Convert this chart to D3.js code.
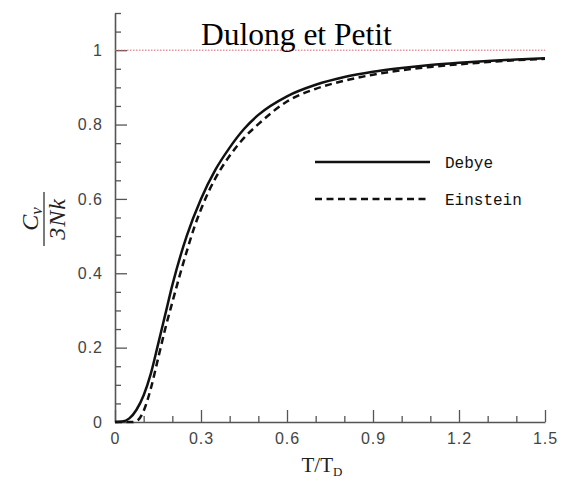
<!DOCTYPE html>
<html>
<head>
<meta charset="utf-8">
<script src="https://cdn.jsdelivr.net/npm/d3@7"></script>
<style>
  body { margin: 0; background: white; }
</style>
</head>
<body>
<div id="chart"></div>
<script>
// values (T/TD on x, Cv/3Nk on y)
const debyeT = [0, 0.025, 0.05, 0.075, 0.1, 0.125, 0.15, 0.175, 0.2, 0.25, 0.3, 0.35, 0.4, 0.45, 0.5, 0.6, 0.7, 0.8, 0.9, 1.0, 1.1, 1.2, 1.3, 1.4, 1.5];
const debyeC = [0, 0.0012, 0.0097, 0.033, 0.072, 0.13, 0.208, 0.288, 0.368, 0.50, 0.60, 0.678, 0.738, 0.788, 0.826, 0.876, 0.907, 0.928, 0.942, 0.952, 0.96, 0.966, 0.971, 0.975, 0.978];

const einsteinT = [0, 0.06, 0.08, 0.1, 0.125, 0.15, 0.175, 0.2, 0.225, 0.25, 0.275, 0.3, 0.325, 0.35, 0.4, 0.45, 0.5, 0.6, 0.7, 0.8, 0.9, 1.0, 1.1, 1.2, 1.3, 1.4, 1.5];
const einsteinC = [0, 0, 0.005, 0.03, 0.09, 0.17, 0.25, 0.322, 0.392, 0.458, 0.52, 0.572, 0.617, 0.655, 0.716, 0.764, 0.801, 0.862, 0.896, 0.918, 0.934, 0.946, 0.955, 0.962, 0.968, 0.973, 0.977];

const xMajor = [0, 0.3, 0.6, 0.9, 1.2, 1.5];
const xMinor = [0.1, 0.2, 0.4, 0.5, 0.7, 0.8, 1.0, 1.1, 1.3, 1.4];
const yMajor = [0, 0.2, 0.4, 0.6, 0.8, 1];
const yMinor = [0.05, 0.1, 0.15, 0.25, 0.3, 0.35, 0.45, 0.5, 0.55, 0.65, 0.7, 0.75, 0.85, 0.9, 0.95, 1.05, 1.1];

const legendNames = ["Debye", "Einstein"];
const limitValue = 1;
const limitLabel = "Dulong et Petit";

document.addEventListener("DOMContentLoaded", () => {

    let width = 572, height = 479;

    let svg = d3.select("#chart")
                .append("svg")
                .attr("width", width)
                .attr("height", height)
                .style("font-family", "'Liberation Sans', Arial, sans-serif");

    let x = d3.scaleLinear().domain([0, 1.5]).range([115, 545]);
    let y = d3.scaleLinear().domain([0, 1.1]).range([422, 13]);

    //START axes
    let axisColor = "#555";

    // minor ticks first, no labels
    svg.append("g")
        .attr("transform", `translate(0, ${y(0)})`)
        .call(d3.axisBottom(x).tickValues(xMinor).tickSizeInner(-6).tickSizeOuter(0).tickFormat(""))
        .call(g => g.select(".domain").remove());
    svg.append("g")
        .attr("transform", `translate(${x(0)}, 0)`)
        .call(d3.axisLeft(y).tickValues(yMinor).tickSizeInner(-6).tickSizeOuter(0).tickFormat(""))
        .call(g => g.select(".domain").remove());

    svg.append("g")
        .attr("transform", `translate(0, ${y(0)})`)
        .call(d3.axisBottom(x).tickValues(xMajor).tickSizeInner(-12).tickSizeOuter(0)
              .tickPadding(11).tickFormat(d => d3.format("~g")(d)));

    svg.append("g")
        .attr("transform", `translate(${x(0)}, 0)`)
        .call(d3.axisLeft(y).tickValues(yMajor).tickSizeInner(-12).tickSizeOuter(0)
              .tickPadding(12).tickFormat(d => d3.format("~g")(d)));

    svg.selectAll(".tick line").attr("stroke", axisColor).attr("stroke-width", 1.3);
    svg.selectAll(".domain").attr("stroke", axisColor).attr("stroke-width", 1.6);
    svg.selectAll(".tick text")
        .attr("fill", "#444")
        .style("font-size", "16px")
        .style("letter-spacing", "1px");
    //END axes

    //START Dulong et Petit line
    svg.append("line")
        .attr("x1", x(0)).attr("x2", x(1.5))
        .attr("y1", y(limitValue)).attr("y2", y(limitValue))
        .attr("stroke", "#e0606e")
        .attr("stroke-width", 1)
        .attr("stroke-dasharray", "1.5,1.5");

    svg.append("text")
        .attr("x", 201).attr("y", 45)
        .style("font-family", "'Liberation Serif', 'Times New Roman', serif")
        .style("font-size", "31.5px")
        .attr("fill", "black")
        .text(limitLabel);
    //END Dulong et Petit line

    //START curves
    let line = d3.line()
        .x(d => x(d[0]))
        .y(d => y(d[1]))
        .curve(d3.curveMonotoneX);

    let debye = debyeT.map((t, i) => [t, debyeC[i]]);
    let einstein = einsteinT.map((t, i) => [t, einsteinC[i]]);

    svg.append("path")
        .datum(einstein)
        .attr("d", line)
        .attr("fill", "none")
        .attr("stroke", "#111")
        .attr("stroke-width", 2.5)
        .attr("stroke-dasharray", "7,4.5");

    svg.append("path")
        .datum(debye)
        .attr("d", line)
        .attr("fill", "none")
        .attr("stroke", "#111")
        .attr("stroke-width", 2.5);
    //END curves

    //START legend
    let legend = svg.selectAll(".legend")
        .data(legendNames)
        .enter()
        .append("g")
        .attr("class", "legend")
        .attr("transform", (d, i) => `translate(315, ${162 + i * 37})`);

    legend.append("line")
        .attr("x1", 0).attr("x2", 115)
        .attr("stroke", "#111")
        .attr("stroke-width", 2.5)
        .attr("stroke-dasharray", (d, i) => i ? "7,4.5" : null);

    legend.append("text")
        .attr("x", 130).attr("dy", "0.35em")
        .style("font-family", "'Liberation Mono', 'Courier New', monospace")
        .style("font-size", "16px")
        .attr("fill", "#111")
        .text(d => d);
    //END legend

    //START axis titles
    let serif = "'Liberation Serif', 'Times New Roman', serif";

    let xTitle = svg.append("text")
        .attr("x", 322).attr("y", 472)
        .attr("text-anchor", "middle")
        .style("font-family", serif)
        .style("font-size", "21px")
        .attr("fill", "#222");
    xTitle.append("tspan").text("T/T");
    xTitle.append("tspan").attr("dy", 4).style("font-size", "13px").text("D");

    let yTitle = svg.append("g")
        .attr("transform", "translate(44, 219) rotate(-90)")
        .style("font-family", serif)
        .attr("fill", "#222");

    yTitle.append("line")
        .attr("x1", -27).attr("x2", 27)
        .attr("stroke", "#333").attr("stroke-width", 1.3);

    let num = yTitle.append("text")
        .attr("y", -6)
        .attr("text-anchor", "middle")
        .style("font-style", "italic")
        .style("font-size", "24px");
    num.append("tspan").text("C");
    num.append("tspan").attr("dy", 4).style("font-size", "17px").text("v");

    yTitle.append("text")
        .attr("y", 21)
        .attr("text-anchor", "middle")
        .style("font-style", "italic")
        .style("font-size", "24px")
        .style("letter-spacing", "1px")
        .text("3Nk");
    //END axis titles
});
</script>
</body>
</html>
